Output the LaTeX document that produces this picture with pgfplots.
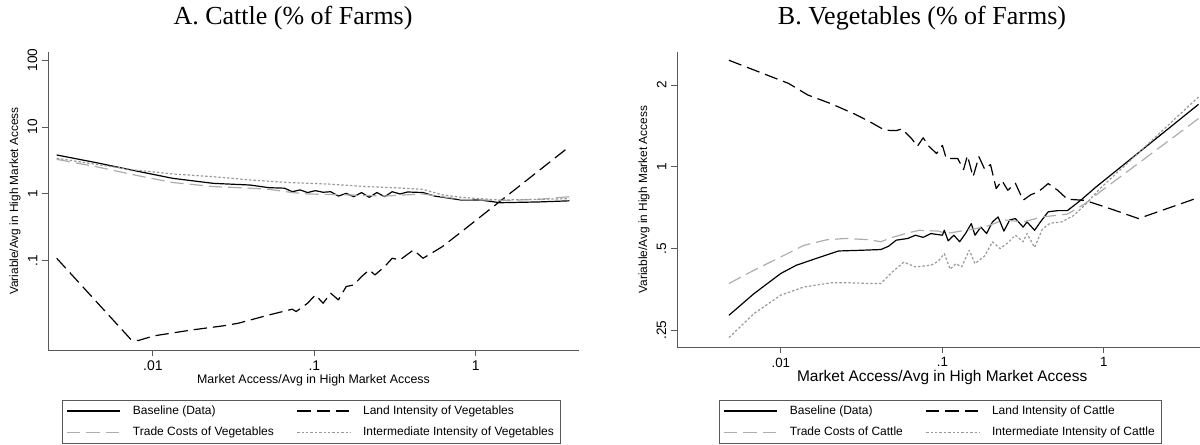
\documentclass[border=0pt]{standalone}
\usepackage{pgfplots}
\pgfplotsset{compat=1.18}
\usepackage{fontspec}
\setmainfont{Liberation Sans}
\newfontfamily\titlefont{Liberation Serif}
\definecolor{axisgray}{gray}{0.35}
\definecolor{tradegray}{gray}{0.68}
\definecolor{intgray}{gray}{0.6}
\tikzset{
  basel/.style={black, line width=0.9pt, line join=round},
  landl/.style={black, line width=0.9pt, line join=round, dash pattern=on 10pt off 4.5pt},
  tradel/.style={tradegray, line width=0.9pt, line join=round, dash pattern=on 10pt off 4.5pt},
  intl/.style={intgray, line width=0.9pt, line join=round, dash pattern=on 1.8pt off 1.5pt},
}
\begin{document}
\begin{tikzpicture}
\path[use as bounding box] (0,0) rectangle (900pt,333.75pt);
\node[font=\titlefont\fontsize{19.5}{22}\selectfont] at (219.75pt,320.5pt) {A. Cattle (\% of Farms)};
\node[font=\titlefont\fontsize{19.5}{22}\selectfont] at (691.5pt,320.5pt) {B. Vegetables (\% of Farms)};
% ---------------- Panel A ----------------
\begin{axis}[
  xmode=log, ymode=log,
  scale only axis,
  axis x line*=bottom, axis y line*=left,
  axis line style={draw=axisgray,-,line width=0.7pt},
  tick style={draw=axisgray,line width=0.7pt},
  tick align=outside, major tick length=4.5pt,
  xminorticks=false, yminorticks=false,
  xtick={0.01,0.1,1}, xticklabels={.01,.1,1},
  legend columns=2, legend cell align=left,
  legend image code/.code={\draw[#1] (0pt,0pt) -- (40pt,0pt); \path (47pt,0pt);},
  at={(36pt,71.25pt)}, anchor=south west,
  width=398.25pt, height=223.5pt,
  xmin=0.002239, xmax=4.355,
  ymin=0.004677, ymax=131.8,
  ytick={0.1,1,10,100}, yticklabels={.1,1,10,100},
  xticklabel style={font=\fontsize{10.5}{12}\selectfont},
  yticklabel style={rotate=90,anchor=south,font=\fontsize{10.2}{12}\selectfont},
  xlabel={Market Access/Avg in High Market Access},
  ylabel={Variable/Avg in High Market Access},
  every axis x label/.style={at={(axis description cs:0.5,-0.1007)},anchor=center,font=\fontsize{9.3}{11}\selectfont},
  every axis y label/.style={at={(axis description cs:-0.062,0.5)},rotate=90,anchor=center,font=\fontsize{8.9}{11}\selectfont},
  legend style={at={(axis description cs:0.0264,-0.1678)}, anchor=north west,
    draw=axisgray, line width=0.6pt, font=\fontsize{9}{11}\selectfont,
    inner xsep=3pt, inner ysep=2pt, row sep=4pt,
    /tikz/every even column/.append style={column sep=15pt}},
]
\addplot[basel] coordinates {
(0.002535,3.82) (0.004436,2.94) (0.007691,2.23) (0.01330,1.71) (0.02366,1.44)
(0.03990,1.36) (0.05248,1.24) (0.06531,1.22) (0.07295,1.08) (0.08150,1.15)
(0.09078,1.05) (0.1014,1.12) (0.1132,1.06) (0.1262,1.08) (0.1409,0.93)
(0.1574,1.02) (0.1754,0.91) (0.1959,1.05) (0.2188,0.89) (0.2438,1.05)
(0.2723,0.91) (0.3034,1.08) (0.3388,1.00) (0.3784,1.07) (0.4710,1.05)
(0.5559,0.93) (0.8166,0.81) (1.074,0.81) (1.413,0.74) (2.449,0.76) (3.793,0.79)};
\addlegendentry{Baseline (Data)}
\addplot[landl] coordinates {
(0.002535,0.1096) (0.007278,0.00678) (0.008110,0.00647) (0.01012,0.00760)
(0.01750,0.00933) (0.02716,0.01072) (0.03381,0.01174) (0.05248,0.01563)
(0.07295,0.01901) (0.07709,0.01753) (0.09078,0.02334) (0.1014,0.03110)
(0.1132,0.02334) (0.1262,0.03289) (0.1409,0.02618) (0.1574,0.04140)
(0.1754,0.04385) (0.1959,0.05834) (0.2188,0.07343) (0.2371,0.06180)
(0.2723,0.08222) (0.3034,0.1096) (0.3388,0.1035) (0.4111,0.1459)
(0.4710,0.1096) (0.6209,0.1637) (0.8166,0.274) (1.413,0.778) (3.793,5.087)};
\addlegendentry{Land Intensity of Vegetables}
\addplot[tradel] coordinates {
(0.002535,3.29) (0.004436,2.56) (0.007691,1.92) (0.01330,1.48) (0.02366,1.29)
(0.03990,1.22) (0.05248,1.17) (0.07295,1.05) (0.09078,1.00) (0.1574,0.97)
(0.2723,0.93) (0.4710,1.00) (0.8166,0.83) (1.413,0.80) (2.449,0.83) (3.793,0.91)};
\addlegendentry{Trade Costs of Vegetables}
\addplot[intl] coordinates {
(0.002535,3.41) (0.004436,2.77) (0.007691,2.28) (0.01330,1.99) (0.02366,1.81)
(0.03990,1.62) (0.06902,1.48) (0.1194,1.41) (0.2070,1.29) (0.3581,1.22)
(0.4710,1.17) (0.6209,0.97) (0.8166,0.89) (1.413,0.81) (3.793,0.85)};
\addlegendentry{Intermediate Intensity of Vegetables}
\end{axis}
% ---------------- Panel B ----------------
\begin{axis}[
  xmode=log, ymode=log, log basis y=2,
  scale only axis,
  axis x line*=bottom, axis y line*=left,
  axis line style={draw=axisgray,-,line width=0.7pt},
  tick style={draw=axisgray,line width=0.7pt},
  tick align=outside, major tick length=4.5pt,
  xminorticks=false, yminorticks=false,
  xtick={0.01,0.1,1}, xticklabels={.01,.1,1},
  legend columns=2, legend cell align=left,
  legend image code/.code={\draw[#1] (0pt,0pt) -- (40pt,0pt); \path (47pt,0pt);},
  at={(507.75pt,73.5pt)}, anchor=south west,
  width=392.25pt, height=221.25pt,
  xmin=0.002275, xmax=3.936,
  ymin=0.217, ymax=2.65,
  ytick={0.25,0.5,1,2}, yticklabels={.25,.5,1,2},
  xticklabel style={font=\fontsize{10}{12}\selectfont},
  yticklabel style={rotate=90,anchor=south,font=\fontsize{10.2}{12}\selectfont},
  xlabel={Market Access/Avg in High Market Access},
  ylabel={Variable/Avg in High Market Access},
  every axis x label/.style={at={(axis description cs:0.507,-0.105)},anchor=center,font=\fontsize{11.6}{13}\selectfont},
  every axis y label/.style={at={(axis description cs:-0.063,0.5)},rotate=90,anchor=center,font=\fontsize{8.9}{11}\selectfont},
  legend style={at={(axis description cs:0.0803,-0.1797)}, anchor=north west,
    draw=axisgray, line width=0.6pt, font=\fontsize{9}{11}\selectfont,
    inner xsep=3pt, inner ysep=2pt, row sep=4pt,
    /tikz/every even column/.append style={column sep=15pt}},
]
\addplot[basel] coordinates {
(0.004772,0.284) (0.006808,0.341) (0.01,0.405) (0.01245,0.434) (0.01638,0.459)
(0.02276,0.490) (0.03162,0.493) (0.04159,0.496) (0.04642,0.510) (0.05176,0.537)
(0.06109,0.545) (0.06808,0.560) (0.07603,0.550) (0.08492,0.568) (0.1,0.560)
(0.1028,0.584) (0.1086,0.534) (0.1178,0.560) (0.1279,0.530) (0.1390,0.568)
(0.1510,0.618) (0.1592,0.560) (0.1730,0.600) (0.1879,0.568) (0.2042,0.627)
(0.2213,0.654) (0.2404,0.580) (0.2612,0.638) (0.2831,0.645) (0.3162,0.600)
(0.3342,0.627) (0.3724,0.584) (0.4046,0.627) (0.4519,0.683) (0.5176,0.690)
(0.5943,0.690) (0.7194,0.754) (0.8954,0.844) (3.854,1.70)};
\addlegendentry{Baseline (Data)}
\addplot[landl] coordinates {
(0.004772,2.47) (0.01116,2.03) (0.01468,1.84) (0.02042,1.71) (0.02831,1.57)
(0.03529,1.47) (0.04395,1.365) (0.05176,1.36) (0.05623,1.38) (0.06457,1.27)
(0.06998,1.19) (0.07603,1.28) (0.08260,1.19) (0.09204,1.12) (0.1,1.20)
(0.1057,1.073) (0.1245,1.073) (0.1352,0.977) (0.1429,1.10) (0.1549,0.919)
(0.1683,1.09) (0.1828,0.98) (0.1986,1.02) (0.2153,0.832) (0.2339,0.89)
(0.2541,0.82) (0.2831,0.87) (0.3162,0.754) (0.3532,0.79) (0.3936,0.81)
(0.4519,0.868) (0.5176,0.82) (0.5943,0.76) (0.7603,0.753) (0.9462,0.722)
(1.245,0.683) (1.637,0.645) (3.854,0.771)};
\addlegendentry{Land Intensity of Cattle}
\addplot[tradel] coordinates {
(0.004772,0.372) (0.006808,0.416) (0.01,0.466) (0.01389,0.514) (0.01931,0.539)
(0.02541,0.545) (0.03529,0.539) (0.04159,0.530) (0.04898,0.550) (0.06109,0.571)
(0.07194,0.584) (0.09462,0.580) (0.1057,0.568) (0.1390,0.584) (0.1828,0.600)
(0.2404,0.638) (0.3162,0.627) (0.4159,0.654) (0.5943,0.670) (0.7603,0.730)
(0.9462,0.809) (3.854,1.507)};
\addlegendentry{Trade Costs of Cattle}
\addplot[intl] coordinates {
(0.004772,0.235) (0.006808,0.288) (0.01,0.337) (0.01389,0.361) (0.02042,0.374)
(0.02683,0.374) (0.03529,0.372) (0.04159,0.372) (0.04898,0.410) (0.05781,0.446)
(0.06808,0.428) (0.08492,0.434) (0.09462,0.450) (0.1028,0.479) (0.1117,0.420)
(0.1211,0.440) (0.1315,0.428) (0.1468,0.493) (0.1592,0.440) (0.1828,0.470)
(0.2042,0.529) (0.2275,0.500) (0.2541,0.525) (0.2831,0.560) (0.3162,0.530)
(0.3342,0.568) (0.3724,0.505) (0.4159,0.590) (0.4645,0.620) (0.5470,0.627)
(0.6449,0.660) (0.7603,0.722) (0.9462,0.832) (3.854,1.81)};
\addlegendentry{Intermediate Intensity of Cattle}
\end{axis}
\end{tikzpicture}
\end{document}
